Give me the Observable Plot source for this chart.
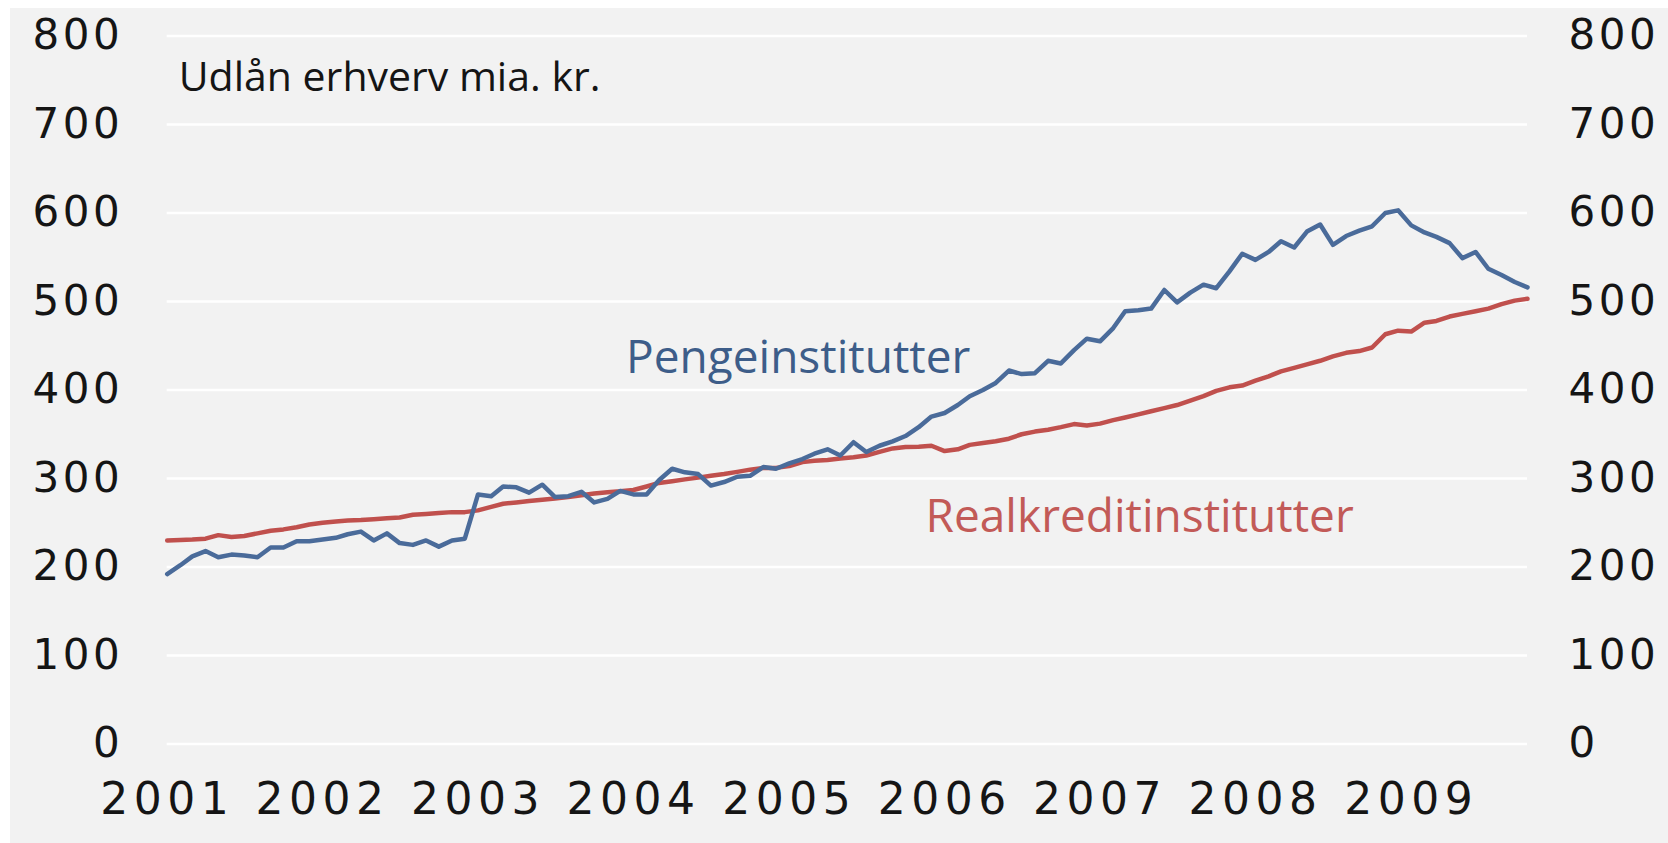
<!DOCTYPE html>
<html>
<head>
<meta charset="utf-8">
<script src="https://cdn.jsdelivr.net/npm/d3@7"></script>
<script src="https://cdn.jsdelivr.net/npm/@observablehq/plot@0.6"></script>
<style>
  html, body { margin: 0; padding: 0; background: #ffffff; }
  #chart { position: absolute; left: 10px; top: 8px; width: 1658px; height: 835px; background: #f2f2f2; }
</style>
</head>
<body>
<div id="chart"></div>
<script>
// ---- Data (monthly, starting January 2001) ----
const startMonth = "2001-01";
const seriesNames = ["Pengeinstitutter", "Realkreditinstitutter"];
const seriesColors = ["#4a6b9a", "#c0504d"];
const labelColors = ["#3d5d89", "#c25a57"];
const titleText = "Udlån erhverv mia. kr.";

const pengeinstitutter = [
  192, 202, 212, 218, 211, 214, 213, 211, 222, 222, 229, 229,
  231, 233, 237, 240, 230, 238, 227, 225, 230, 223, 230, 232,
  282, 280, 291, 290, 284, 293, 279, 280, 285, 273, 277, 286,
  282, 282, 298, 311, 307, 305, 292, 296, 302, 303, 313, 311,
  317, 322, 328, 333, 326, 341, 330, 337, 342, 348, 358, 370,
  374, 383, 393, 400, 408, 422, 418, 419, 433, 430, 445, 458,
  455, 470, 489, 490, 492, 513, 499, 510, 519, 515, 534, 554,
  547, 556, 568, 561, 579, 587, 564, 574, 580, 585, 600, 603,
  586, 578, 573, 566, 549, 556, 537, 530, 522, 516
];
const realkreditinstitutter = [
  230, 230.5, 231, 232, 236, 234, 235, 238, 241, 242.5, 245, 248,
  250, 251.5, 252.5, 253, 254, 255, 256, 259, 260, 261, 262, 262,
  264, 268, 271.5, 273, 274.5, 276, 277.5, 279, 281, 283, 284.5, 285.5,
  287, 291, 295, 297, 299, 301, 303, 305, 307.5, 310, 312, 312,
  314, 318.5, 320, 321, 322.5, 324, 326, 330, 334, 335.5, 336, 337,
  331, 333, 338, 340, 342, 345, 350, 353, 355, 358, 361.5, 360,
  362, 366, 369, 372.5, 376, 379.5, 383, 388, 393, 399, 403, 405,
  410.5, 415.5, 421, 425, 429, 433, 438, 442, 444, 448, 463, 467,
  466, 476, 478, 483, 486, 489, 492, 497, 501, 503
];

const yTicks = [0, 100, 200, 300, 400, 500, 600, 700, 800];
const xTickYears = ["2001", "2002", "2003", "2004", "2005", "2006", "2007", "2008", "2009"];

// Series label anchors in data terms (date, value)
const labelDates = ["2005-01-22", "2007-04-04"];
const labelValues = [419, 240];

// ---- Build tables ----
const parseMonth = d3.utcParse("%Y-%m");
const parseYear = d3.utcParse("%Y");
const parseDay = d3.utcParse("%Y-%m-%d");
const start = parseMonth(startMonth);
const seriesValues = [pengeinstitutter, realkreditinstitutter];
const rows = seriesValues.map((vals, s) =>
  vals.map((v, i) => ({ date: d3.utcMonth.offset(start, i), value: v, series: seriesNames[s] }))
);
const lastDate = d3.utcMonth.offset(start, pengeinstitutter.length - 1);
const xTicks = xTickYears.map(parseYear);
const labels = seriesNames.map((name, i) => ({ name, date: parseDay(labelDates[i]), value: labelValues[i] }));

const plot = Plot.plot({
  width: 1658,
  height: 835,
  marginLeft: 156.7,
  marginRight: 141,
  marginTop: 27.5,
  marginBottom: 99.5,
  style: { background: "transparent", fontFamily: "DejaVu Sans", fontSize: "42px", color: "#151515", overflow: "visible" },
  x: { type: "utc", domain: [start, lastDate] },
  y: { domain: [0, 800] },
  marks: [
    Plot.gridY(yTicks, { stroke: "#ffffff", strokeOpacity: 1, strokeWidth: 2.6 }),
    Plot.axisY(yTicks, { anchor: "left", tickSize: 0, tickPadding: 44, label: null, fontSize: 42, fill: "#151515" }),
    Plot.axisY(yTicks, { anchor: "right", tickSize: 0, tickPadding: 41, label: null, fontSize: 42, fill: "#151515" }),
    Plot.axisX(xTicks, { anchor: "bottom", tickSize: 0, tickPadding: 39, label: null, tickFormat: "%Y", fontSize: 44, fill: "#151515" }),
    Plot.lineY(rows[1], { x: "date", y: "value", stroke: seriesColors[1], strokeWidth: 4.5, strokeLinejoin: "round" }),
    Plot.lineY(rows[0], { x: "date", y: "value", stroke: seriesColors[0], strokeWidth: 4.5, strokeLinejoin: "round" }),
    Plot.text([labels[0]], { x: "date", y: "value", text: "name", fill: labelColors[0], fontFamily: "Open Sans", fontSize: 46, textAnchor: "middle", lineAnchor: "bottom" }),
    Plot.text([labels[1]], { x: "date", y: "value", text: "name", fill: labelColors[1], fontFamily: "Open Sans", fontSize: 46, textAnchor: "middle", lineAnchor: "bottom" }),
    Plot.text([titleText], { frameAnchor: "top-left", dx: 11.5, dy: 55, fill: "#151515", fontFamily: "Open Sans", fontSize: 41, textAnchor: "start", lineAnchor: "bottom" })
  ]
});

d3.select(plot).selectAll('g[aria-label="y-axis tick label"] text').style("letter-spacing", "3.5px");
d3.select(plot).selectAll('g[aria-label="x-axis tick label"] text').style("letter-spacing", "5.5px");
document.getElementById("chart").appendChild(plot);
</script>
</body>
</html>
